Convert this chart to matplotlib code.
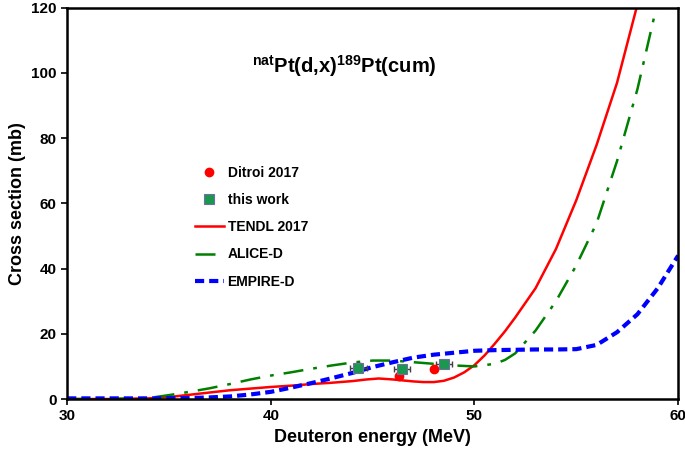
import matplotlib
matplotlib.use("Agg")
import matplotlib.pyplot as plt

plt.rcParams['font.family'] = 'Liberation Sans'
plt.rcParams['font.weight'] = 'bold'
plt.rcParams['mathtext.fontset'] = 'custom'
plt.rcParams['mathtext.rm'] = 'Liberation Sans:bold'
plt.rcParams['mathtext.bf'] = 'Liberation Sans:bold'

# experimental data
ditroi_E = [46.3, 48.0]
ditroi_cs = [7.1, 9.3]

work_E = [44.3, 46.45, 48.5]
work_cs = [9.6, 9.2, 10.7]
work_dE = [0.4, 0.4, 0.4]
work_dcs = [1.3, 1.3, 1.3]

# model curves
tendl_E = [30, 32, 34, 35, 36, 37, 38, 39, 40, 41, 42, 43, 44, 44.7, 45.3, 46, 46.5, 47, 47.5,
           48, 48.5, 49, 49.5, 50, 50.5, 51, 51.5, 52, 53, 54, 55, 56, 57, 58]
tendl_cs = [0, 0, 0.2, 0.6, 1.3, 2.0, 2.7, 3.2, 3.7, 4.1, 4.6, 5.0, 5.5, 6.0, 6.3, 6.0, 5.7, 5.4, 5.2,
            5.2, 5.6, 6.6, 8.2, 10.4, 13.4, 17.0, 20.8, 25, 34, 46, 61, 78, 97, 121]

alice_E = [30, 32, 34, 35, 36, 37, 38, 39, 40, 41, 42, 43, 44, 45, 46, 47, 48, 49, 50, 51,
           51.5, 52, 53, 54, 55, 56, 57, 58, 59]
alice_cs = [0, 0, 0.3, 1.2, 2.2, 3.3, 4.6, 6.0, 7.2, 8.2, 9.3, 10.3, 11.2, 11.8, 11.8, 11.3, 10.8, 10.3, 10.0, 10.8,
            12.0, 14.0, 21, 30, 41, 54, 73, 95, 122]

empire_E = [30, 32, 34, 36, 37, 38, 39, 40, 41, 42, 43, 44, 45, 46, 47, 48, 49, 50, 51, 52,
            53, 54, 55, 56, 57, 58, 59, 60]
empire_cs = [0.2, 0.2, 0.2, 0.3, 0.5, 0.8, 1.4, 2.2, 3.5, 4.9, 6.4, 8.0, 9.8, 11.3, 12.7, 13.6, 14.2, 14.8, 15.0, 15.1,
             15.2, 15.2, 15.3, 16.6, 20.5, 26, 34, 44]

fig = plt.figure(figsize=(6.85, 4.55), dpi=100)
ax = fig.add_axes([0.098, 0.123, 0.892, 0.860])

ax.plot(tendl_E, tendl_cs, color='red', lw=1.8, label='TENDL 2017', zorder=2)
ax.plot(alice_E, alice_cs, color='green', lw=1.8, dashes=(8, 4, 1.5, 4), label='ALICE-D', zorder=2)
ax.plot(empire_E, empire_cs, color='blue', lw=3, dashes=(2.2, 1.2), label='EMPIRE-D', zorder=2)

ax.errorbar(work_E, work_cs, xerr=work_dE, yerr=work_dcs, fmt='none', ecolor='#404040',
            elinewidth=1, capsize=2.5, zorder=3)
ax.plot(ditroi_E, ditroi_cs, 'o', color='red', ms=6, label='Ditroi 2017', zorder=4)
ax.plot(work_E, work_cs, 's', color='#1a9850', mec='#6f6f9f', mew=0.8, ms=6.5, label='this work', zorder=4)

ax.set_xlim(30, 60)
ax.set_ylim(0, 120)
ax.set_xticks([30, 40, 50, 60])
ax.set_yticks([0, 20, 40, 60, 80, 100, 120])
ax.tick_params(labelsize=11, width=1.2, length=4)
for lab in ax.get_xticklabels() + ax.get_yticklabels():
    lab.set_fontweight('bold')
for s in ax.spines.values():
    s.set_linewidth(1.8)

ax.set_xlabel('Deuteron energy (MeV)', fontsize=13, fontweight='bold')
ax.set_ylabel('Cross section (mb)', fontsize=13, fontweight='bold')

ax.text(0.453, 0.852, r'$^{\mathrm{nat}}$Pt(d,x)$^{\mathrm{189}}$Pt(cum)', transform=ax.transAxes,
        ha='center', va='center', fontsize=14.5, fontweight='bold')

handles, labels = ax.get_legend_handles_labels()
order = [3, 4, 0, 1, 2]
ax.legend([handles[i] for i in order], [labels[i] for i in order], loc='upper left',
          bbox_to_anchor=(0.2, 0.61), frameon=False, handlelength=2.1,
          labelspacing=0.95, handletextpad=0.25, borderaxespad=0,
          prop={'weight': 'bold', 'size': 10})

fig.savefig('out.png', dpi=100)
